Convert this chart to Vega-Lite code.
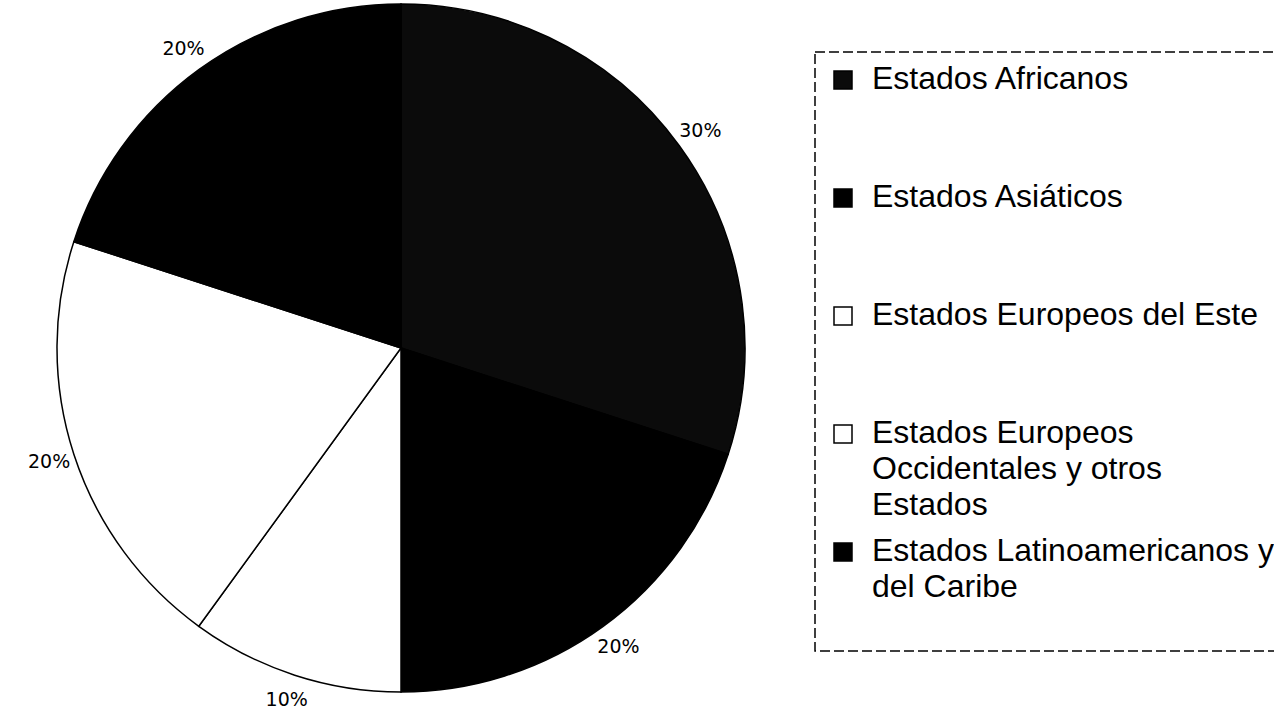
{
  "$schema": "https://vega.github.io/schema/vega-lite/v6.json",
  "width": 802,
  "height": 696,
  "autosize": {"type": "none"},
  "padding": {"left": 0, "top": 0, "right": 472, "bottom": 19},
  "background": "white",
  "config": {"view": {"stroke": null}},
  "data": {
    "values": [
      {"region": "Estados Africanos", "share": 0.3, "orden": 1},
      {"region": "Estados Asiáticos", "share": 0.2, "orden": 2},
      {"region": "Estados Europeos del Este", "share": 0.1, "orden": 3},
      {"region": "Estados Europeos Occidentales y otros Estados", "share": 0.2, "orden": 4},
      {"region": "Estados Latinoamericanos y del Caribe", "share": 0.2, "orden": 5}
    ]
  },
  "encoding": {
    "theta": {"field": "share", "type": "quantitative", "stack": true},
    "order": {"field": "orden", "type": "quantitative"}
  },
  "layer": [
    {
      "mark": {"type": "arc", "outerRadius": 344, "stroke": "black", "strokeWidth": 1.5},
      "encoding": {
        "color": {
          "field": "region",
          "type": "nominal",
          "scale": {
            "domain": [
              "Estados Africanos",
              "Estados Asiáticos",
              "Estados Europeos del Este",
              "Estados Europeos Occidentales y otros Estados",
              "Estados Latinoamericanos y del Caribe"
            ],
            "range": ["#0b0b0b", "#000000", "#ffffff", "#ffffff", "#000000"]
          },
          "legend": {
            "orient": "none",
            "legendX": 815,
            "legendY": 52,
            "title": null,
            "symbolType": "square",
            "symbolSize": 324,
            "symbolStrokeColor": "black",
            "symbolStrokeWidth": 1.5,
            "labelFont": "Liberation Sans",
            "labelFontSize": 32,
            "labelColor": "black",
            "labelBaseline": "top",
            "labelOffset": 13,
            "labelLimit": 600,
            "rowPadding": 14,
            "padding": 12,
            "strokeColor": "black",
            "labelExpr": "datum.label == 'Estados Europeos Occidentales y otros Estados' ? ['Estados Europeos', 'Occidentales y otros', 'Estados'] : datum.label == 'Estados Latinoamericanos y del Caribe' ? ['Estados Latinoamericanos y', 'del Caribe', ''] : [datum.label, '', '']",
            "encode": {
              "labels": {"update": {"dy": {"value": -16}, "lineHeight": {"value": 36}}},
              "legend": {"update": {"strokeDash": {"value": [10, 4]}, "strokeWidth": {"value": 1.5}}}
            }
          }
        }
      }
    },
    {
      "mark": {"type": "text", "radius": 370, "font": "DejaVu Sans", "fontSize": 19, "color": "black"},
      "encoding": {
        "detail": {"field": "region", "type": "nominal"},
        "text": {"field": "share", "type": "quantitative", "format": ".0%"}
      }
    }
  ]
}
